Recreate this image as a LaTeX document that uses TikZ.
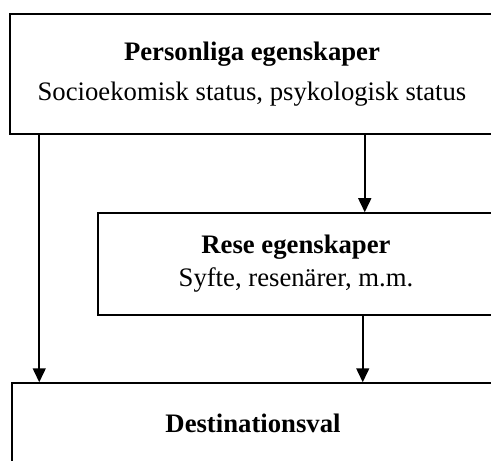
\documentclass[tikz,border=0pt]{standalone}
\usepackage{fontspec}
\setmainfont{Liberation Serif}
\usetikzlibrary{arrows.meta,calc}

\tikzset{
  box/.style={draw, line width=1.5bp, align=center, inner sep=0pt,
    font=\fontsize{26.8}{40.2}\selectfont},
  arr/.style={line width=1.5bp, -{Triangle[length=14bp,width=13bp]}}
}

\begin{document}
\begin{tikzpicture}[x=1bp,y=-1bp]
\useasboundingbox (0,0) rectangle (491,461);
\clip (0,0) rectangle (491,461);
% boxes (right side runs out of the frame)
\node[box, minimum width=484bp, minimum height=120bp] (pers) at (252,74)
  {\textbf{Personliga egenskaper}\\Socioekomisk status, psykologisk status};
\node[box, minimum width=396bp, minimum height=102bp,
  font=\fontsize{26.8}{33.1}\selectfont] (rese) at (296,264)
  {\textbf{Rese egenskaper}\\Syfte, resenärer, m.m.};
\node[box, minimum width=482bp, minimum height=80bp] (dest) at (253,423)
  {\textbf{Destinationsval}};
% arrows
\draw[arr] ([xshift=30bp]pers.south west) -- ([xshift=30bp]pers.south west |- dest.north);
\draw[arr] ([xshift=-130bp]pers.south east) -- ([xshift=-130bp]pers.south east |- rese.north);
\draw[arr] ([xshift=-132bp]rese.south east) -- ([xshift=-132bp]rese.south east |- dest.north);
\end{tikzpicture}
\end{document}
